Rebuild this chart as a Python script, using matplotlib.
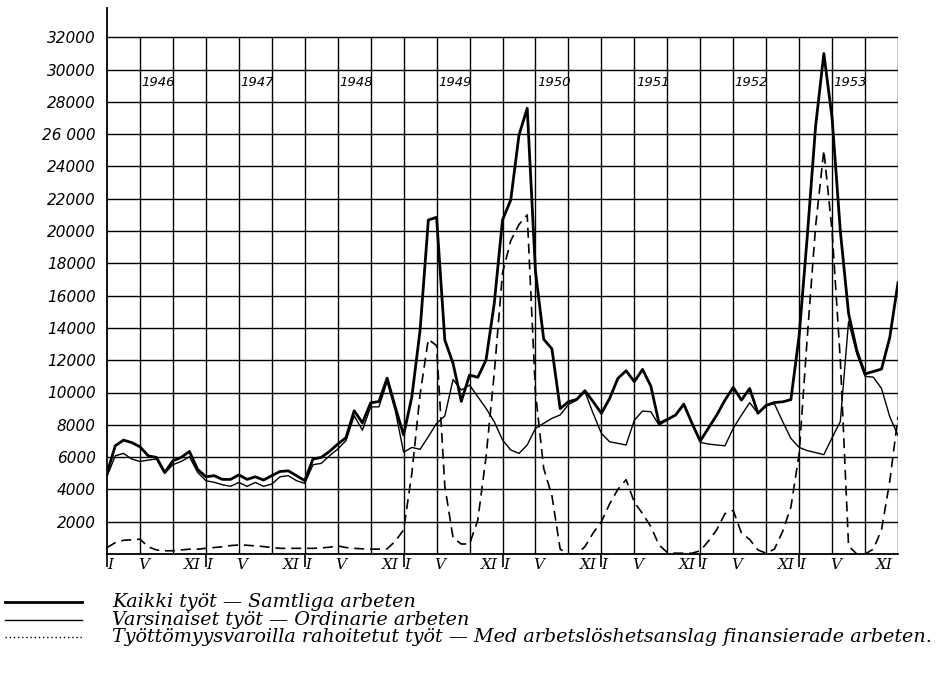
import numpy as np
import matplotlib
matplotlib.use("Agg")
import matplotlib.pyplot as plt
from matplotlib.lines import Line2D

# Monthly values, Jan 1946 .. Jan 1954
total = [
    5000, 6700, 7050, 6900, 6640, 6080, 5980, 5050, 5770, 5980, 6350, 5240,   # 1946
    4780, 4850, 4620, 4620, 4900, 4620, 4780, 4580, 4850, 5110, 5150, 4850,   # 1947
    4540, 5880, 5980, 6350, 6800, 7200, 8870, 8120, 9360, 9440, 10890, 9070,  # 1948
    7370, 9740, 13870, 20680, 20850, 13250, 11800, 9450, 11080, 10940, 12010, 15520,  # 1949
    20680, 21920, 25940, 27600, 17500, 13300, 12700, 9000, 9430, 9570, 10110, 9430,   # 1950
    8710, 9630, 10870, 11350, 10670, 11430, 10400, 8090, 8330, 8600, 9280, 8090,      # 1951
    7000, 7800, 8600, 9530, 10320, 9530, 10250, 8710, 9200, 9380, 9420, 9560,         # 1952
    13500, 19740, 26490, 30990, 27000, 20000, 14900, 12600, 11150, 11300, 11450, 13400,  # 1953
    16800,
]
ordinary = [
    4800, 6080, 6230, 5880, 5730, 5815, 5880, 4990, 5530, 5730, 6020, 5050,
    4540, 4440, 4290, 4190, 4430, 4190, 4430, 4190, 4330, 4780, 4850, 4540,
    4370, 5530, 5610, 6080, 6500, 7010, 8560, 7670, 9110, 9110, 10680, 8850,
    6300, 6600, 6480, 7270, 8090, 8550, 10800, 10150, 10460, 9740, 9020, 8190,
    7060, 6440, 6230, 6750, 7780, 8090, 8400, 8610, 9250, 9530, 10050, 8710,
    7470, 6950, 6850, 6750, 8290, 8850, 8810, 7980, 8290, 8600, 9220, 8090,
    6910, 6810, 6750, 6700, 7780, 8600, 9370, 8710, 9200, 9300, 8200, 7160,
    6600, 6400, 6280, 6150, 7200, 8200, 14400, 12400, 11000, 10950, 10250, 8500,
    7350,
]
funded = [
    400, 700, 850, 880, 920, 450, 250, 200, 200, 250, 300, 300,
    350, 400, 450, 520, 560, 540, 500, 460, 400, 350, 350, 350,
    350, 350, 380, 420, 500, 400, 350, 320, 300, 300, 320, 800,
    1500, 5000, 9900, 13300, 12900, 4200, 1000, 620, 620, 2100, 6000, 11200,
    17400, 19400, 20400, 21000, 10000, 5300, 3600, 300, 0, 0, 450, 1300,
    2000, 3100, 4000, 4600, 3200, 2500, 1700, 550, 100, 50, 50, 50,
    200, 800, 1500, 2500, 2700, 1300, 900, 250, 50, 300, 1400, 2900,
    6200, 13500, 20300, 25000, 20000, 12000, 500, 0, 0, 300, 1500, 4500,
    8500,
]

years = ["1946", "1947", "1948", "1949", "1950", "1951", "1952", "1953"]
month_labels = ["I", "V", "XI"]
month_pos = [0, 4, 10]
y_values = list(range(2000, 32001, 2000))
y_labels = ["2000", "4000", "6000", "8000", "10000", "12000", "14000", "16000",
            "18000", "20000", "22000", "24000", "26 000", "28000", "30000", "32000"]
legend_labels = [
    "Kaikki työt — Samtliga arbeten",
    "Varsinaiset työt — Ordinarie arbeten",
    "Työttömyysvaroilla rahoitetut työt — Med arbetslöshetsanslag finansierade arbeten.",
]

W, H = 947, 673
fig = plt.figure(figsize=(W / 100, H / 100), dpi=100)
x0, x1, y0, y1 = 107, 898, 554, 8
ax = fig.add_axes([x0 / W, 1 - y0 / H, (x1 - x0) / W, (y0 - y1) / H])

n_months = 12 * len(years)
ymax_grid = 32000
ax.set_xlim(0, n_months)
ax.set_ylim(0, (y0 - y1) * 2000 / 32.3)

# grid drawn by hand so it stops at 32000
ax.hlines(y_values, 0, n_months, colors="black", lw=1.0, zorder=1)
ax.vlines(np.arange(4, n_months + 1, 4), 0, ymax_grid, colors="black", lw=1.0, zorder=1)

x = np.arange(len(total))
ax.plot(x, total, color="black", lw=2.0, zorder=3)
ax.plot(x, ordinary, color="black", lw=1.0, zorder=3)
ax.plot(x, funded, color="black", lw=1.2, dashes=(6, 3.5), zorder=3)

for s in ["top", "right"]:
    ax.spines[s].set_visible(False)
for s in ["left", "bottom"]:
    ax.spines[s].set_linewidth(1.3)

ax.set_yticks(y_values)
ax.set_yticklabels(y_labels, fontsize=11, style="italic")
ax.tick_params(axis="y", length=0, pad=8)
ax.set_xticks(np.arange(0, n_months, 12))
ax.set_xticklabels([])
ax.tick_params(axis="x", length=9, width=1.2, direction="out")

for i, yr in enumerate(years):
    ax.text(12 * i + 4.2, 29200, yr, fontsize=9.5, style="italic", va="center", ha="left")
    for lab, m in zip(month_labels, month_pos):
        ax.text(12 * i + m + 0.4, -700, lab, fontsize=11, family="DejaVu Serif",
                style="italic", ha="center", va="center", clip_on=False)

# legend below the chart
rows = [602, 620, 637]
styles = [dict(lw=2.0), dict(lw=1.0), dict(lw=1.0, ls=(0, (1, 2)))]
for py, st, lab in zip(rows, styles, legend_labels):
    fig.add_artist(Line2D([5 / W, 82 / W], [1 - py / H, 1 - py / H], color="black", **st))
    fig.text(112 / W, 1 - py / H, lab, fontsize=13.8, family="DejaVu Serif",
             style="italic", va="center", ha="left")

fig.savefig("out.png", dpi=100)
